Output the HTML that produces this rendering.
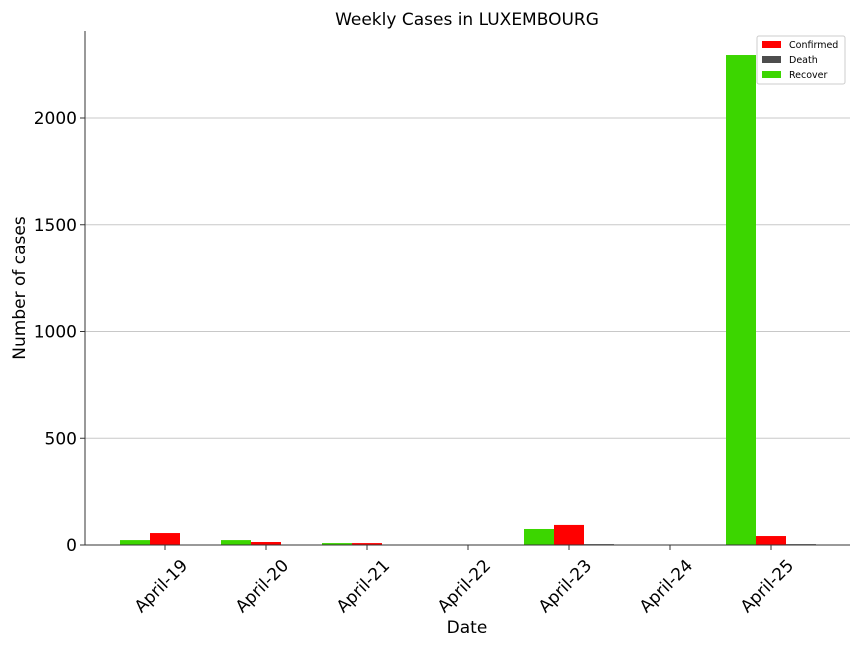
<!DOCTYPE html>
<html><head><meta charset="utf-8"><style>body{margin:0;background:#fff}svg{font-family:"DejaVu Sans","Liberation Sans",sans-serif}</style></head>
<body>
<svg id="chart" width="864" height="648">
<text x="467" y="25" font-size="17" text-anchor="middle">Weekly Cases in LUXEMBOURG</text>
<g id="grid"></g><g id="bars"></g><g id="axes"></g>
<text x="467" y="633" font-size="17" text-anchor="middle">Date</text>
<text transform="translate(25,288) rotate(-90)" font-size="17" text-anchor="middle">Number of cases</text>
<g>
<rect x="757" y="36" width="88" height="48" fill="#fff" stroke="#ccc" rx="2"/>
<g><rect x="762" y="41" width="19" height="7" fill="#ff0000"/><text x="789" y="48" font-size="9.5">Confirmed</text></g>
<g><rect x="762" y="56" width="19" height="7" fill="#4d4d4d"/><text x="789" y="63" font-size="9.5">Death</text></g>
<g><rect x="762" y="71" width="19" height="7" fill="#3cd600"/><text x="789" y="78" font-size="9.5">Recover</text></g>
</g>
</svg>
<script>
const categories=["April-19","April-20","April-21","April-22","April-23","April-24","April-25"];
const recover=[23,23,9,0,75,0,2295];
const confirmed=[56,14,9,0,94,0,42];
const death=[0,0,0,0,4,0,4];
const yTicks=[0,500,1000,1500,2000];
const NS="http://www.w3.org/2000/svg";
const x0=165,step=101,bw=30;
const yBase=545,yScale=427/2000;
const xPos=i=>x0+step*i;
const yPos=v=>yBase-v*yScale;
function mk(tag,attrs,parent){const e=document.createElementNS(NS,tag);for(const k in attrs)e.setAttribute(k,attrs[k]);document.getElementById(parent).appendChild(e);return e;}
yTicks.forEach(t=>{
 if(t>0){const g=mk('line',{x1:85,x2:850,y1:yPos(t),y2:yPos(t),stroke:'#c8c8c8','stroke-width':1},'grid');
 
 }
 const tk=mk('line',{x1:80,x2:85,y1:yPos(t),y2:yPos(t),stroke:'#333'},'axes');
 
 
 const tx=mk('text',{x:77,y:yPos(t)+6,'font-size':17,'text-anchor':'end'},'axes');tx.textContent=t;
 
 
});
const series=[[recover,'#3cd600',-45,'recover'],[confirmed,'#ff0000',-15,'confirmed'],[death,'#4d4d4d',15,'death']];
categories.forEach((c,i)=>{
 series.forEach(([arr,col,off,nm])=>{
  const v=arr[i];if(v<=0)return;
  const r=mk('rect',{x:xPos(i)+off,y:yPos(v),width:bw,height:yBase-yPos(v),fill:col},'bars');
  
  
 });
 const tk=mk('line',{x1:xPos(i),x2:xPos(i),y1:545,y2:550,stroke:'#333'},'axes');
 
 
 const tx=mk('text',{transform:`translate(${xPos(i)},590) rotate(-45)`,'font-size':17,'text-anchor':'middle'},'axes');tx.textContent=c;
 
 
});
const l=mk('line',{x1:85,x2:85,y1:31,y2:545,stroke:'#333','stroke-width':1},'axes');


const b=mk('line',{x1:85,x2:850,y1:545,y2:545,stroke:'#333','stroke-width':1},'axes');


</script>
</body></html>
